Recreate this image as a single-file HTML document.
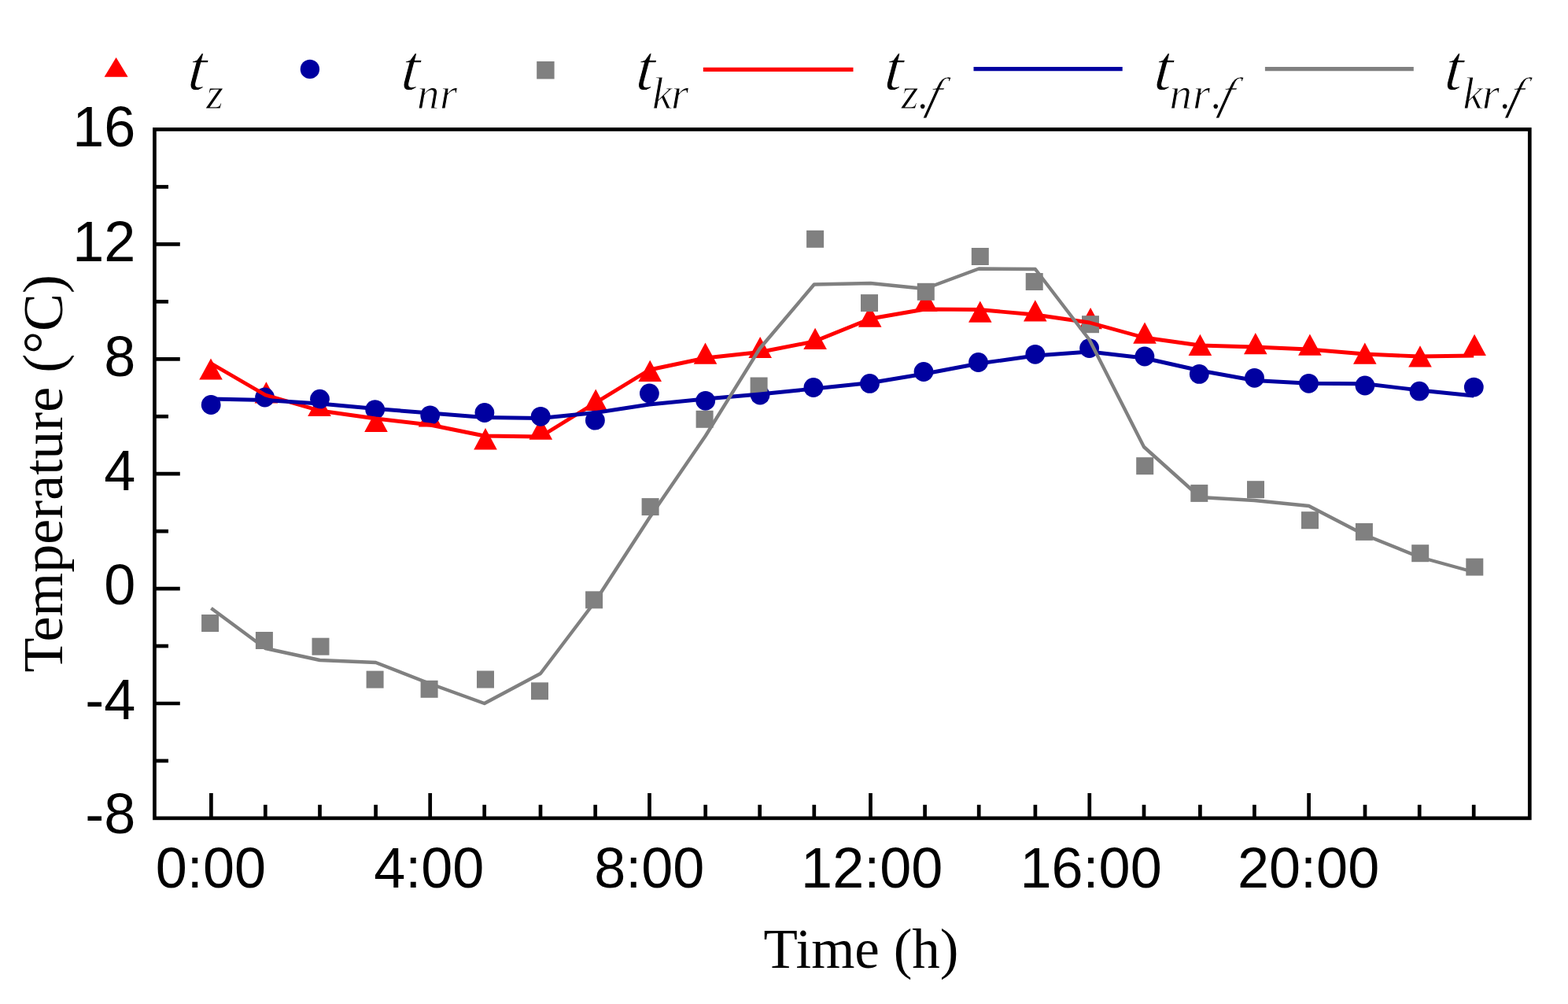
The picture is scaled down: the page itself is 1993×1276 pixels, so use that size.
<!DOCTYPE html><html><head><meta charset="utf-8"><style>html,body{margin:0;padding:0;background:#fff;overflow:hidden;width:1993px;height:1276px;}svg{display:block;}</style></head><body>
<svg width="1993" height="1276" viewBox="0 0 1993 1276">
<rect width="1993" height="1276" fill="#fff"/>
<polygon points="253.2,482.6 282.8,482.6 268.0,455.4" fill="#ff0000"/><polygon points="323.6,512.5 353.2,512.5 338.4,485.2" fill="#ff0000"/><polygon points="391.2,529.1 420.8,529.1 406.0,501.9" fill="#ff0000"/><polygon points="463.2,548.9 492.8,548.9 478.0,521.6" fill="#ff0000"/><polygon points="531.7,542.6 561.3,542.6 546.5,515.4" fill="#ff0000"/><polygon points="602.2,571.4 631.8,571.4 617.0,544.1" fill="#ff0000"/><polygon points="672.5,558.8 702.1,558.8 687.3,531.5" fill="#ff0000"/><polygon points="742.4,521.9 772.0,521.9 757.2,494.6" fill="#ff0000"/><polygon points="811.4,484.9 841.0,484.9 826.2,457.7" fill="#ff0000"/><polygon points="881.7,462.8 911.3,462.8 896.5,435.6" fill="#ff0000"/><polygon points="951.4,455.1 981.0,455.1 966.2,427.9" fill="#ff0000"/><polygon points="1021.3,444.0 1050.9,444.0 1036.1,416.8" fill="#ff0000"/><polygon points="1090.9,415.8 1120.5,415.8 1105.7,388.5" fill="#ff0000"/><polygon points="1162.1,396.1 1191.7,396.1 1176.9,368.9" fill="#ff0000"/><polygon points="1231.0,409.8 1260.6,409.8 1245.8,382.5" fill="#ff0000"/><polygon points="1301.0,408.4 1330.6,408.4 1315.8,381.2" fill="#ff0000"/><polygon points="1371.3,418.3 1400.9,418.3 1386.1,391.1" fill="#ff0000"/><polygon points="1440.2,436.8 1469.8,436.8 1455.0,409.6" fill="#ff0000"/><polygon points="1510.6,451.9 1540.2,451.9 1525.4,424.7" fill="#ff0000"/><polygon points="1581.0,450.3 1610.6,450.3 1595.8,423.1" fill="#ff0000"/><polygon points="1650.1,451.8 1679.7,451.8 1664.9,424.5" fill="#ff0000"/><polygon points="1720.0,462.8 1749.6,462.8 1734.8,435.5" fill="#ff0000"/><polygon points="1790.2,466.5 1819.8,466.5 1805.0,439.2" fill="#ff0000"/><polygon points="1859.3,451.9 1888.9,451.9 1874.1,424.7" fill="#ff0000"/><circle cx="268.2" cy="514.5" r="12.4" fill="#0000a0"/><circle cx="336.6" cy="505" r="12.4" fill="#0000a0"/><circle cx="406.5" cy="507.2" r="12.4" fill="#0000a0"/><circle cx="476.7" cy="520.6" r="12.4" fill="#0000a0"/><circle cx="546.7" cy="527.8" r="12.4" fill="#0000a0"/><circle cx="615.9" cy="524.5" r="12.4" fill="#0000a0"/><circle cx="687.2" cy="529.3" r="12.4" fill="#0000a0"/><circle cx="756.4" cy="534.2" r="12.4" fill="#0000a0"/><circle cx="825.4" cy="499.9" r="12.4" fill="#0000a0"/><circle cx="896.7" cy="509.3" r="12.4" fill="#0000a0"/><circle cx="966.1" cy="502" r="12.4" fill="#0000a0"/><circle cx="1033.9" cy="492.5" r="12.4" fill="#0000a0"/><circle cx="1105.5" cy="487.4" r="12.4" fill="#0000a0"/><circle cx="1174.0" cy="472.5" r="12.4" fill="#0000a0"/><circle cx="1243.5" cy="460.5" r="12.4" fill="#0000a0"/><circle cx="1315.8" cy="450.3" r="12.4" fill="#0000a0"/><circle cx="1384.6" cy="442.6" r="12.4" fill="#0000a0"/><circle cx="1454.9" cy="453" r="12.4" fill="#0000a0"/><circle cx="1524.3" cy="475.4" r="12.4" fill="#0000a0"/><circle cx="1594.5" cy="480.3" r="12.4" fill="#0000a0"/><circle cx="1663.5" cy="487.3" r="12.4" fill="#0000a0"/><circle cx="1734.9" cy="490" r="12.4" fill="#0000a0"/><circle cx="1804.1" cy="497.2" r="12.4" fill="#0000a0"/><circle cx="1873.3" cy="492.1" r="12.4" fill="#0000a0"/><rect x="256.1" y="781.0" width="22.0" height="22.0" fill="#808080"/><rect x="324.9" y="803.0" width="22.0" height="22.0" fill="#808080"/><rect x="396.5" y="810.7" width="22.0" height="22.0" fill="#808080"/><rect x="465.6" y="852.6" width="22.0" height="22.0" fill="#808080"/><rect x="534.6" y="864.8" width="22.0" height="22.0" fill="#808080"/><rect x="606.0" y="852.5" width="22.0" height="22.0" fill="#808080"/><rect x="675.0" y="867.3" width="22.0" height="22.0" fill="#808080"/><rect x="744.1" y="751.4" width="22.0" height="22.0" fill="#808080"/><rect x="815.6" y="633.1" width="22.0" height="22.0" fill="#808080"/><rect x="884.6" y="521.8" width="22.0" height="22.0" fill="#808080"/><rect x="953.6" y="479.5" width="22.0" height="22.0" fill="#808080"/><rect x="1025.1" y="292.8" width="22.0" height="22.0" fill="#808080"/><rect x="1094.0" y="374.1" width="22.0" height="22.0" fill="#808080"/><rect x="1165.8" y="359.8" width="22.0" height="22.0" fill="#808080"/><rect x="1234.8" y="315.0" width="22.0" height="22.0" fill="#808080"/><rect x="1303.7" y="347.0" width="22.0" height="22.0" fill="#808080"/><rect x="1375.0" y="401.2" width="22.0" height="22.0" fill="#808080"/><rect x="1444.2" y="581.2" width="22.0" height="22.0" fill="#808080"/><rect x="1513.3" y="615.9" width="22.0" height="22.0" fill="#808080"/><rect x="1585.0" y="611.2" width="22.0" height="22.0" fill="#808080"/><rect x="1654.0" y="650.2" width="22.0" height="22.0" fill="#808080"/><rect x="1722.9" y="664.9" width="22.0" height="22.0" fill="#808080"/><rect x="1794.2" y="692.2" width="22.0" height="22.0" fill="#808080"/><rect x="1863.3" y="709.6" width="22.0" height="22.0" fill="#808080"/>
<polyline points="268.4,462 337.3,502 406.5,522 477.6,532 546.7,540 615.7,554 687.0,555 756.7,512 825.5,470 896.7,455 965.7,447.5 1034.8,434 1106.5,405 1175.6,393 1244.2,393.5 1315.9,400 1384.8,410 1454.0,429 1525.4,439 1594.4,441 1663.6,444 1735.0,450 1804.2,453 1873.2,452" fill="none" stroke="#ff0000" stroke-width="4.9" stroke-linejoin="round"/>
<polyline points="268.4,507 337.3,508.5 406.5,513 477.6,519.5 546.7,525 615.7,530.5 687.0,531.5 756.7,524.5 825.5,514 896.7,507 965.7,501 1034.8,494 1106.5,486.5 1175.6,475 1244.2,462 1315.9,452 1384.8,447 1454.0,455 1525.4,471 1594.4,483.5 1663.6,487.2 1735.0,487.7 1804.2,496 1873.2,503" fill="none" stroke="#0000a0" stroke-width="4.9" stroke-linejoin="round"/>
<polyline points="268.4,773 337.3,824 406.5,839 477.6,842 546.7,869 615.7,894 687.0,856 756.7,764 825.5,658 896.7,554 965.7,443 1034.8,361.5 1106.5,360 1175.6,367 1244.2,341.5 1315.9,342 1384.8,432 1454.0,568 1525.4,632 1594.4,636 1663.6,643 1735.0,680 1804.2,708 1873.2,727" fill="none" stroke="#808080" stroke-width="4.4" stroke-linejoin="round"/>
<rect x="196.45" y="164.45" width="1747.85" height="875.40" fill="none" stroke="#000" stroke-width="4.7" stroke-linecap="square"/>
<line x1="196.45" y1="966.95" x2="214.0" y2="966.95" stroke="#000" stroke-width="4.7"/><line x1="196.45" y1="894.00" x2="228.8" y2="894.00" stroke="#000" stroke-width="4.7"/><line x1="196.45" y1="821.05" x2="214.0" y2="821.05" stroke="#000" stroke-width="4.7"/><line x1="196.45" y1="748.10" x2="228.8" y2="748.10" stroke="#000" stroke-width="4.7"/><line x1="196.45" y1="675.15" x2="214.0" y2="675.15" stroke="#000" stroke-width="4.7"/><line x1="196.45" y1="602.20" x2="228.8" y2="602.20" stroke="#000" stroke-width="4.7"/><line x1="196.45" y1="529.25" x2="214.0" y2="529.25" stroke="#000" stroke-width="4.7"/><line x1="196.45" y1="456.30" x2="228.8" y2="456.30" stroke="#000" stroke-width="4.7"/><line x1="196.45" y1="383.35" x2="214.0" y2="383.35" stroke="#000" stroke-width="4.7"/><line x1="196.45" y1="310.40" x2="228.8" y2="310.40" stroke="#000" stroke-width="4.7"/><line x1="196.45" y1="237.45" x2="214.0" y2="237.45" stroke="#000" stroke-width="4.7"/><line x1="337.30" y1="1039.85" x2="337.30" y2="1022.8" stroke="#000" stroke-width="4.7"/><line x1="406.50" y1="1039.85" x2="406.50" y2="1022.8" stroke="#000" stroke-width="4.7"/><line x1="477.60" y1="1039.85" x2="477.60" y2="1022.8" stroke="#000" stroke-width="4.7"/><line x1="546.70" y1="1039.85" x2="546.70" y2="1008.0" stroke="#000" stroke-width="4.7"/><line x1="615.70" y1="1039.85" x2="615.70" y2="1022.8" stroke="#000" stroke-width="4.7"/><line x1="687.00" y1="1039.85" x2="687.00" y2="1022.8" stroke="#000" stroke-width="4.7"/><line x1="756.70" y1="1039.85" x2="756.70" y2="1022.8" stroke="#000" stroke-width="4.7"/><line x1="825.50" y1="1039.85" x2="825.50" y2="1008.0" stroke="#000" stroke-width="4.7"/><line x1="896.70" y1="1039.85" x2="896.70" y2="1022.8" stroke="#000" stroke-width="4.7"/><line x1="965.70" y1="1039.85" x2="965.70" y2="1022.8" stroke="#000" stroke-width="4.7"/><line x1="1034.80" y1="1039.85" x2="1034.80" y2="1022.8" stroke="#000" stroke-width="4.7"/><line x1="1106.50" y1="1039.85" x2="1106.50" y2="1008.0" stroke="#000" stroke-width="4.7"/><line x1="1175.60" y1="1039.85" x2="1175.60" y2="1022.8" stroke="#000" stroke-width="4.7"/><line x1="1244.20" y1="1039.85" x2="1244.20" y2="1022.8" stroke="#000" stroke-width="4.7"/><line x1="1315.90" y1="1039.85" x2="1315.90" y2="1022.8" stroke="#000" stroke-width="4.7"/><line x1="1384.80" y1="1039.85" x2="1384.80" y2="1008.0" stroke="#000" stroke-width="4.7"/><line x1="1454.00" y1="1039.85" x2="1454.00" y2="1022.8" stroke="#000" stroke-width="4.7"/><line x1="1525.40" y1="1039.85" x2="1525.40" y2="1022.8" stroke="#000" stroke-width="4.7"/><line x1="1594.40" y1="1039.85" x2="1594.40" y2="1022.8" stroke="#000" stroke-width="4.7"/><line x1="1663.60" y1="1039.85" x2="1663.60" y2="1008.0" stroke="#000" stroke-width="4.7"/><line x1="1735.00" y1="1039.85" x2="1735.00" y2="1022.8" stroke="#000" stroke-width="4.7"/><line x1="1804.20" y1="1039.85" x2="1804.20" y2="1022.8" stroke="#000" stroke-width="4.7"/><line x1="1873.20" y1="1039.85" x2="1873.20" y2="1022.8" stroke="#000" stroke-width="4.7"/><line x1="268.40" y1="1039.85" x2="268.40" y2="1008.0" stroke="#000" stroke-width="4.7"/>
<g font-family="Liberation Sans, Arial, sans-serif" font-size="72" fill="#000"><text x="172.3" y="1059.0" text-anchor="end">-8</text><text x="172.3" y="913.6" text-anchor="end">-4</text><text x="172.3" y="768.0" text-anchor="end">0</text><text x="172.3" y="622.5" text-anchor="end">4</text><text x="172.3" y="477.5" text-anchor="end">8</text><text x="172.3" y="331.6" text-anchor="end">12</text><text x="172.3" y="186.3" text-anchor="end">16</text></g>
<g font-family="Liberation Sans, Arial, sans-serif" font-size="72" fill="#000"><text x="267.9" y="1128.3" text-anchor="middle">0:00</text><text x="545.2" y="1128.3" text-anchor="middle">4:00</text><text x="825.2" y="1128.3" text-anchor="middle">8:00</text><text x="1108.2" y="1128.3" text-anchor="middle">12:00</text><text x="1386.6" y="1128.3" text-anchor="middle">16:00</text><text x="1663.1" y="1128.3" text-anchor="middle">20:00</text></g>
<text x="1094.5" y="1229.5" text-anchor="middle" font-family="Liberation Serif, Times New Roman, serif" font-size="71" fill="#000">Time (h)</text>
<text transform="translate(78.9,601.8) rotate(-90)" text-anchor="middle" font-family="Liberation Serif, Times New Roman, serif" font-size="72" fill="#000">Temperature (°C)</text>
<polygon points="132.6,97.7 162.6,97.7 147.6,73.1" fill="#ff0000"/><circle cx="393.9" cy="87.9" r="12.2" fill="#0000a0"/><rect x="682.2" y="78" width="22.4" height="22.4" fill="#808080"/><line x1="893.8" y1="88.4" x2="1084.5" y2="88.4" stroke="#ff0000" stroke-width="5.3"/><line x1="1237.5" y1="87.6" x2="1426.7" y2="87.6" stroke="#0000a0" stroke-width="5.4"/><line x1="1607.9" y1="87.6" x2="1796.8" y2="87.6" stroke="#808080" stroke-width="5.4"/>
<g fill="#000" stroke="#fff" stroke-width="1.0"><text transform="translate(237.4,114) skewX(-5)" x="0" y="0" font-family="Liberation Serif, Times New Roman, serif" font-style="italic" font-size="82">t</text><text x="262.0" y="138.0" font-family="Liberation Serif, Times New Roman, serif" font-style="italic" font-size="57">z</text><text transform="translate(508.6,114) skewX(-5)" x="0" y="0" font-family="Liberation Serif, Times New Roman, serif" font-style="italic" font-size="82">t</text><text x="530.1" y="138.0" font-family="Liberation Serif, Times New Roman, serif" font-style="italic" font-size="57">n</text><text x="559.0" y="138.0" font-family="Liberation Serif, Times New Roman, serif" font-style="italic" font-size="57">r</text><text transform="translate(807.0,114) skewX(-5)" x="0" y="0" font-family="Liberation Serif, Times New Roman, serif" font-style="italic" font-size="82">t</text><text x="829.0" y="138.0" font-family="Liberation Serif, Times New Roman, serif" font-style="italic" font-size="57">k</text><text x="853.0" y="138.0" font-family="Liberation Serif, Times New Roman, serif" font-style="italic" font-size="57">r</text><text transform="translate(1122.8,114) skewX(-5)" x="0" y="0" font-family="Liberation Serif, Times New Roman, serif" font-style="italic" font-size="82">t</text><text x="1145.4" y="138.0" font-family="Liberation Serif, Times New Roman, serif" font-style="italic" font-size="57">z</text><text x="1167.1" y="138.0" font-family="Liberation Serif, Times New Roman, serif" font-style="italic" font-size="57">.</text><text transform="translate(1175.7,138.0) skewX(-15.5)" x="0" y="0" font-family="Liberation Serif, Times New Roman, serif" font-style="italic" font-size="57">f</text><text transform="translate(1465.5,114) skewX(-5)" x="0" y="0" font-family="Liberation Serif, Times New Roman, serif" font-style="italic" font-size="82">t</text><text x="1486.5" y="138.0" font-family="Liberation Serif, Times New Roman, serif" font-style="italic" font-size="57">n</text><text x="1516.0" y="138.0" font-family="Liberation Serif, Times New Roman, serif" font-style="italic" font-size="57">r</text><text x="1539.6" y="138.0" font-family="Liberation Serif, Times New Roman, serif" font-style="italic" font-size="57">.</text><text transform="translate(1547.8,138.0) skewX(-15.5)" x="0" y="0" font-family="Liberation Serif, Times New Roman, serif" font-style="italic" font-size="57">f</text><text transform="translate(1834.7,114) skewX(-5)" x="0" y="0" font-family="Liberation Serif, Times New Roman, serif" font-style="italic" font-size="82">t</text><text x="1859.5" y="138.0" font-family="Liberation Serif, Times New Roman, serif" font-style="italic" font-size="57">k</text><text x="1883.7" y="138.0" font-family="Liberation Serif, Times New Roman, serif" font-style="italic" font-size="57">r</text><text x="1906.9" y="138.0" font-family="Liberation Serif, Times New Roman, serif" font-style="italic" font-size="57">.</text><text transform="translate(1915.1,138.0) skewX(-15.5)" x="0" y="0" font-family="Liberation Serif, Times New Roman, serif" font-style="italic" font-size="57">f</text></g>
</svg></body></html>
